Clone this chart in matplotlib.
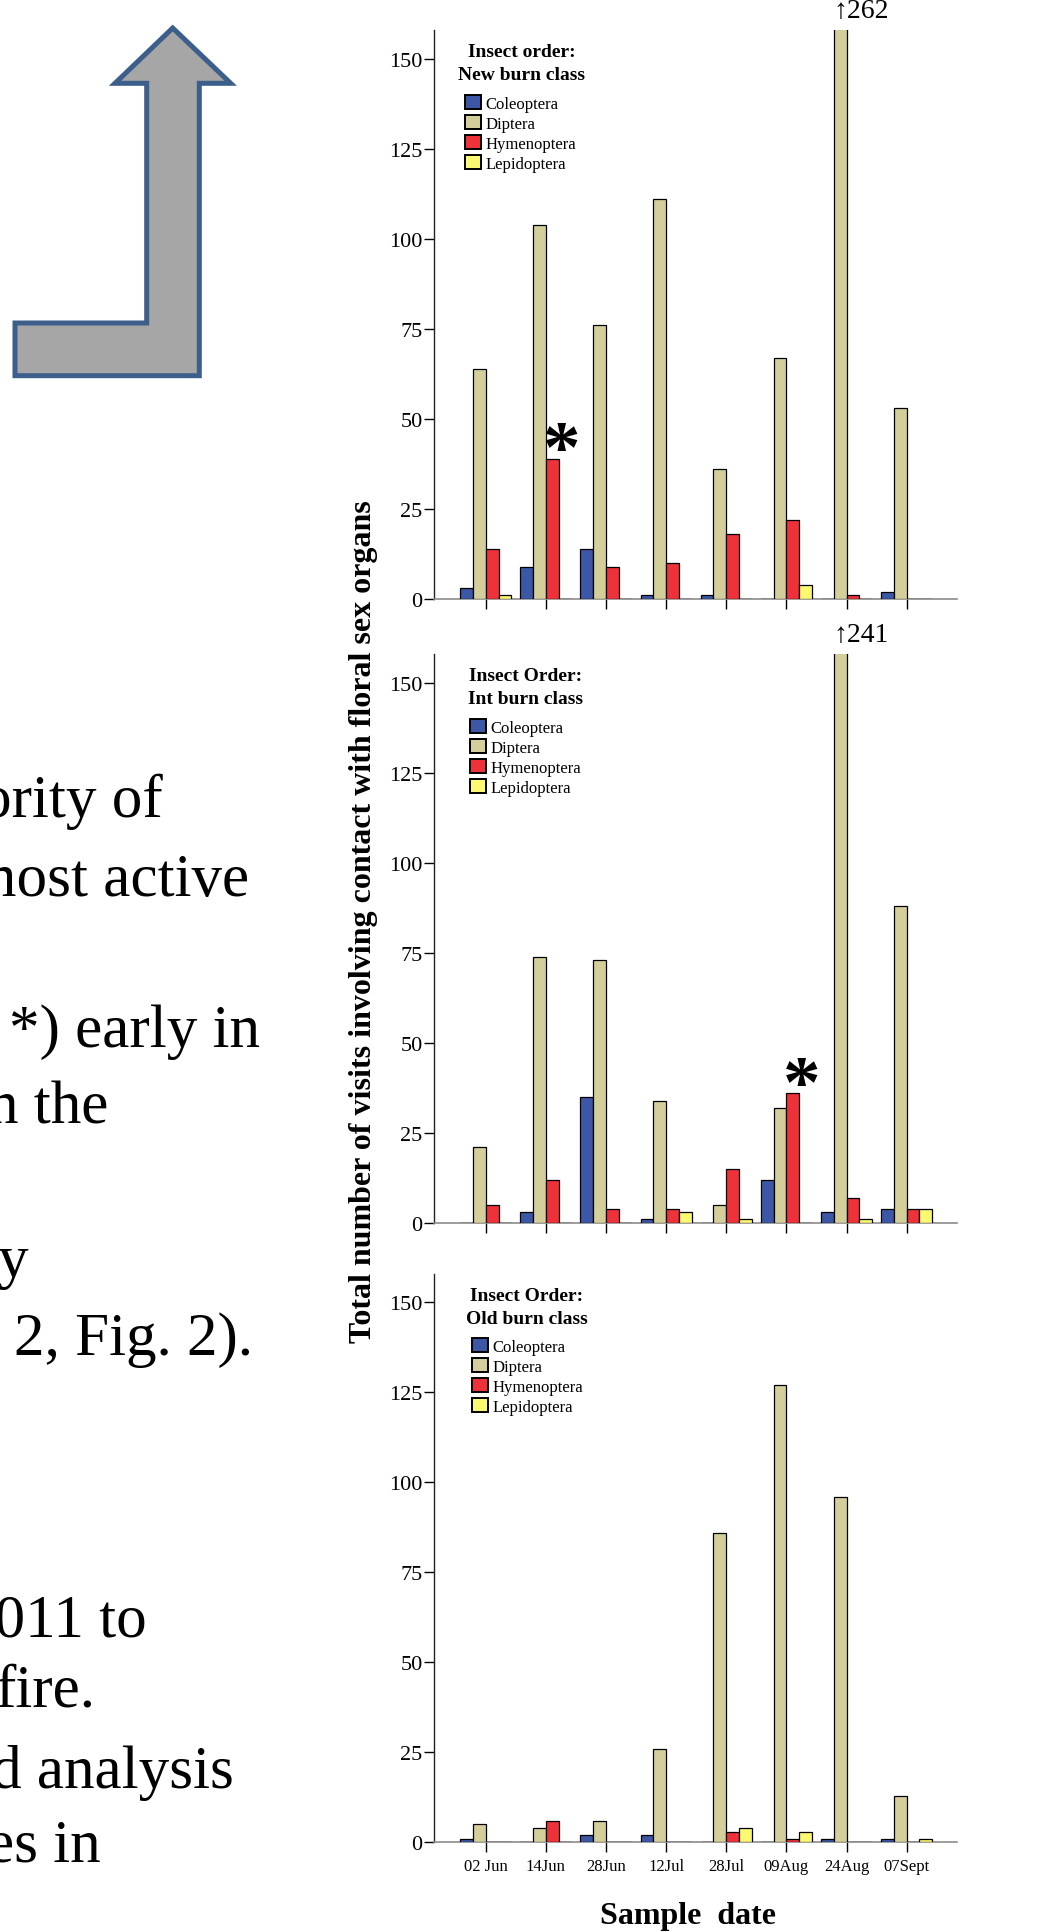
import numpy as np
import matplotlib.pyplot as plt
from matplotlib.patches import Polygon, Patch

plt.rcParams['font.family'] = ['Liberation Serif', 'DejaVu Serif']

dates = ['02 Jun', '14Jun', '28Jun', '12Jul', '28Jul', '09Aug', '24Aug', '07Sept']
orders = ['Coleoptera', 'Diptera', 'Hymenoptera', 'Lepidoptera']
colors = ['#3d57a7', '#d4cf9a', '#ef3139', '#fbf872']
yticks = [0, 25, 50, 75, 100, 125, 150]

# visits per order, new burn class
new_col = [3, 9, 14, 1, 1, 0, 0, 2]
new_dip = [64, 104, 76, 111, 36, 67, 262, 53]
new_hym = [14, 39, 9, 10, 18, 22, 1, 0]
new_lep = [1, 0, 0, 0, 0, 4, 0, 0]

# intermediate burn class
int_col = [0, 3, 35, 1, 0, 12, 3, 4]
int_dip = [21, 74, 73, 34, 5, 32, 241, 88]
int_hym = [5, 12, 4, 4, 15, 36, 7, 4]
int_lep = [0, 0, 0, 3, 1, 0, 1, 4]

# old burn class
old_col = [1, 0, 2, 2, 0, 0, 1, 1]
old_dip = [5, 4, 6, 26, 86, 127, 96, 13]
old_hym = [0, 6, 0, 0, 3, 1, 0, 0]
old_lep = [0, 0, 0, 0, 4, 3, 0, 1]

titles = ['Insect order:\nNew burn class',
          'Insect Order:\nInt burn class',
          'Insect Order:\nOld burn class']

# poster text fragments cut by the left edge: (text, right end px, baseline px)
side_text = [('ority of', 163, 817), ('most active', 249, 896),
             ('*) early in', 260, 1047), ('n the', 108, 1124),
             ('y', 28, 1277), ('2, Fig. 2).', 253, 1355),
             ('2011 to', 147, 1637), ('fire.', 95, 1707),
             ('d analysis', 234, 1788), ('es in', 101, 1862)]

# bent arrow outline in px
arrow_px = [(172.7, 29), (230.7, 84.3), (199.3, 84.3), (199.3, 376.7),
            (15, 376.7), (15, 324), (146.7, 324), (146.7, 84.3), (115, 84.3)]

W, H = 1043, 1933
fig = plt.figure(figsize=(W / 100, H / 100), dpi=100)

bg = fig.add_axes([0, 0, 1, 1])
bg.set_xlim(0, W)
bg.set_ylim(H, 0)
bg.axis('off')
bg.add_patch(Polygon(arrow_px, closed=True, facecolor='#a6a6a6',
                     edgecolor='#3b5e8b', linewidth=3.6, joinstyle='miter'))
for txt, xr, yb in side_text:
    bg.text(xr, yb, txt, fontsize=44, ha='right', va='baseline')

ax_left, ax_right = 434, 957
panel_bottoms = [600, 1224, 1843.3]
panel_h = 568.8
legend_x = [465, 470, 472]
title_x = [522, 526, 527]

series = [[new_col, new_dip, new_hym, new_lep],
          [int_col, int_dip, int_hym, int_lep],
          [old_col, old_dip, old_hym, old_lep]]

x = np.arange(len(dates))
w = 0.213
px_unit = 60.14
x0_px = 485.7

axes = []
for p in range(3):
    ax = fig.add_axes([ax_left / W, (H - panel_bottoms[p]) / H,
                       (ax_right - ax_left) / W, panel_h / H])
    axes.append(ax)
    for k in range(4):
        ax.bar(x + (k - 1.5) * w, series[p][k], width=w, color=colors[k],
               edgecolor='black', linewidth=0.9, zorder=3, label=orders[k])
    ax.set_xlim((ax_left - x0_px) / px_unit, (ax_right - x0_px) / px_unit)
    ax.set_ylim(0, 158)
    ax.set_yticks(yticks)
    ax.set_yticklabels([str(t) for t in yticks], fontsize=16)
    ax.set_xticks(x)
    if p == 2:
        ax.set_xticklabels(dates, fontsize=12)
    else:
        ax.set_xticklabels([])
    ax.tick_params(axis='both', length=7.2, width=1, color='black', pad=1)
    ax.tick_params(axis='x', pad=4)
    for s in ['top', 'right']:
        ax.spines[s].set_visible(False)
    ax.spines['left'].set_color('#222222')
    ax.spines['left'].set_linewidth(1)
    ax.spines['bottom'].set_color('#8c8c8c')
    ax.spines['bottom'].set_linewidth(1.2)

    tx = (title_x[p] - x0_px) / px_unit
    ax.text(tx, 148.8, titles[p], fontsize=14, fontweight='bold',
            ha='center', va='center', multialignment='center', linespacing=1.45)
    handles = [Patch(facecolor=c, edgecolor='black', linewidth=1.4) for c in colors]
    ax.legend(handles, orders, loc='upper left',
              bbox_to_anchor=((legend_x[p] - x0_px) / px_unit, 140.0),
              bbox_transform=ax.transData, frameon=False, borderpad=0,
              borderaxespad=0, handlelength=0.96, handleheight=0.9,
              handletextpad=0.25, labelspacing=0.2, fontsize=12)

# values beyond the axis
for ax, val in [(axes[0], new_dip[6]), (axes[1], int_dip[6])]:
    ax.annotate('\u2191' + str(val), xy=(6 - 0.5 * w, 1.0),
                xycoords=('data', 'axes fraction'), xytext=(-5, 14),
                textcoords='offset points', fontsize=20, ha='left', va='center',
                annotation_clip=False)

# significance marks above the Hymenoptera bars
for ax, i, val in [(axes[0], 1, new_hym[1]), (axes[1], 5, int_hym[5])]:
    ax.text(i + 0.5 * w + 0.15, val - 3.5, '*', fontsize=54,
            fontweight='bold', ha='center', va='baseline')

fig.text(363 / W, 1 - 921.5 / H,
         'Total number of visits involving contact with floral sex organs',
         rotation=90, fontsize=23, fontweight='bold', ha='center', va='center')
fig.text(687.5 / W, 1 - 1916.7 / H, 'Sample  date', fontsize=23,
         fontweight='bold', ha='center', va='center')

fig.savefig('out.png', dpi=100)
